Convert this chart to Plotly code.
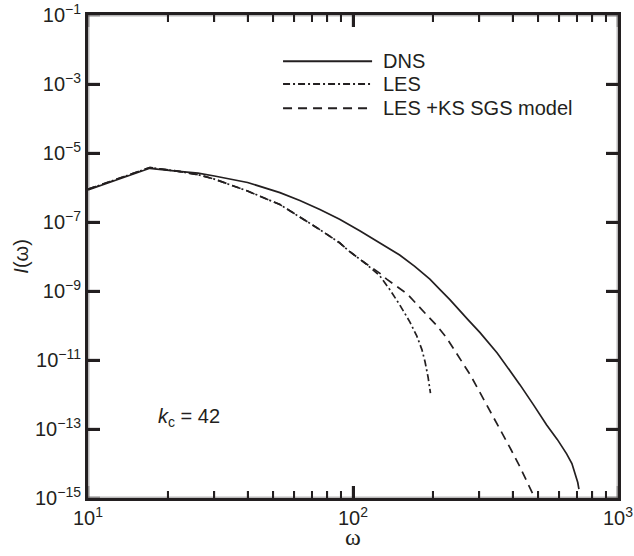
import plotly.graph_objects as go
from plotly.subplots import make_subplots

# ---- data (omega, I(omega)) ----
dns_omega = [10, 17.1, 22, 26, 30, 40, 53, 63, 75, 89, 106, 121, 150, 171, 195, 213, 232,
             272, 301, 350, 391, 427, 480, 538, 590, 640, 670, 689, 705, 712]
dns_I = [8.5e-7, 3.6e-6, 2.95e-6, 2.6e-6, 2.15e-6, 1.4e-6, 7.1e-7, 4.2e-7, 2.3e-7, 1.2e-7,
         5.6e-8, 3.0e-8, 1.1e-8, 5.2e-9, 2.2e-9, 1.1e-9, 5.6e-10,
         1.45e-10, 6.3e-11, 1.6e-11, 5.0e-12, 1.9e-12, 5.0e-13, 1.3e-13, 5.0e-14, 1.9e-14,
         1.0e-14, 5.4e-15, 2.8e-15, 1.8e-15]

les_omega = [10, 17.1, 22, 26, 30, 40, 53, 63, 75, 89, 97, 110, 126, 138, 150, 164, 174,
             182, 187, 192, 196]
les_I = [8.9e-7, 3.8e-6, 2.95e-6, 2.35e-6, 1.75e-6, 7.9e-7, 3.2e-7, 1.4e-7, 6.0e-8, 2.5e-8,
         1.4e-8, 6.8e-9, 2.8e-9, 1.07e-9, 4.0e-10, 1.26e-10, 5.0e-11, 2.0e-11, 8.9e-12,
         3.2e-12, 1.1e-12]

ks_omega = [10, 17.1, 22, 26, 30, 40, 53, 63, 75, 89, 97, 110, 126, 134, 160, 190, 207,
            226, 250, 277, 293, 325, 359, 395, 427, 455, 478]
ks_I = [8.9e-7, 3.8e-6, 2.95e-6, 2.35e-6, 1.75e-6, 7.9e-7, 3.2e-7, 1.4e-7, 6.0e-8, 2.5e-8,
        1.4e-8, 6.8e-9, 3.3e-9, 2.2e-9, 8.3e-10, 2.0e-10, 1.0e-10, 4.3e-11, 1.26e-11,
        3.7e-12, 1.7e-12, 4.0e-13, 1.0e-13, 2.5e-14, 7.9e-15, 2.8e-15, 1.26e-15]

x_tickvals = [10, 100, 1000]
x_ticktext = ["10<sup>1</sup>", "10<sup>2</sup>", "10<sup>3</sup>"]
x_minor = [20, 30, 40, 50, 60, 70, 80, 90, 200, 300, 400, 500, 600, 700, 800, 900]
y_tickvals = [1e-1, 1e-3, 1e-5, 1e-7, 1e-9, 1e-11, 1e-13, 1e-15]
y_ticktext = ["10<sup>\u22121</sup>", "10<sup>\u22123</sup>", "10<sup>\u22125</sup>",
              "10<sup>\u22127</sup>", "10<sup>\u22129</sup>", "10<sup>\u221211</sup>",
              "10<sup>\u221213</sup>", "10<sup>\u221215</sup>"]

legend_names = ["DNS", "LES", "LES +KS SGS model"]

INK = "#231f20"
FONT = "Liberation Sans, Arial, sans-serif"
dashdot = "7px,3px,2px,3px"
dashed = "9px,6px"

W, H = 634, 556
M = dict(l=88, r=16, t=15, b=58)
PW = W - M["l"] - M["r"]
PH = H - M["t"] - M["b"]

fig = make_subplots(rows=1, cols=1)
fig.add_trace(go.Scatter(x=dns_omega, y=dns_I, mode="lines", name=legend_names[0],
                         line=dict(color=INK, width=1.7, dash="solid")), row=1, col=1)
fig.add_trace(go.Scatter(x=les_omega, y=les_I, mode="lines", name=legend_names[1],
                         line=dict(color=INK, width=1.7, dash=dashdot)), row=1, col=1)
fig.add_trace(go.Scatter(x=ks_omega, y=ks_I, mode="lines", name=legend_names[2],
                         line=dict(color=INK, width=1.7, dash=dashed)), row=1, col=1)

# manual legend (long line samples as in the reference)
leg_y = [0.904, 0.857, 0.807]
leg_dash = ["solid", dashdot, dashed]
for yy, dd, nm in zip(leg_y, leg_dash, legend_names):
    fig.add_shape(type="line", xref="paper", yref="paper", x0=0.368, x1=0.536, y0=yy, y1=yy,
                  opacity=1, line=dict(color=INK, width=2, dash=dd))
    fig.add_annotation(xref="paper", yref="paper", x=0.553, y=yy, text=nm, showarrow=False,
                       xanchor="left", yanchor="middle", font=dict(family=FONT, size=20, color=INK))

fig.add_annotation(xref="paper", yref="paper", x=0.128, y=0.166,
                   text="<i>k</i><sub>c</sub> = 42", showarrow=False,
                   xanchor="left", yanchor="middle", font=dict(family=FONT, size=20, color=INK))

# axis titles
fig.add_annotation(xref="paper", yref="paper", x=0.5, y=-0.08, text="\u03c9", showarrow=False,
                   xanchor="center", yanchor="middle",
                   font=dict(family="Liberation Serif, serif", size=24, color=INK))
fig.add_annotation(xref="paper", yref="paper", x=-0.128, y=0.5, text="<i>I</i>(\u03c9)",
                   showarrow=False, textangle=-90, xanchor="center", yanchor="middle",
                   font=dict(family=FONT, size=20, color=INK))

# frame and tick marks (placed through the axes' own scales)
fig.add_shape(type="rect", xref="paper", yref="paper", x0=0, x1=1, y0=0, y1=1,
              line=dict(color=INK, width=3), fillcolor="rgba(0,0,0,0)")
maj_x = 12 / PH
min_x = 7 / PH
maj_y = 12 / PW
for v in x_tickvals:
    for a, b in ((0, maj_x), (1, 1 - maj_x)):
        fig.add_shape(type="line", xref="x", yref="y domain", x0=v, x1=v, y0=a, y1=b,
                      line=dict(color=INK, width=3))
for v in x_minor:
    for a, b in ((0, min_x), (1, 1 - min_x)):
        fig.add_shape(type="line", xref="x", yref="y domain", x0=v, x1=v, y0=a, y1=b,
                      line=dict(color=INK, width=2))
for v in y_tickvals:
    for a, b in ((0, maj_y), (1, 1 - maj_y)):
        fig.add_shape(type="line", xref="x domain", yref="y", x0=a, x1=b, y0=v, y1=v,
                      line=dict(color=INK, width=3))

base = dict(showgrid=False, zeroline=False, showline=True, linewidth=3, linecolor=INK,
            mirror="ticks", ticks="inside", ticklen=12, tickwidth=3, tickcolor=INK)

fig.update_xaxes(type="log", range=[1, 3], tickmode="array", tickvals=x_tickvals, ticktext=x_ticktext,
                 automargin=False, tickfont=dict(family=FONT, size=20, color=INK),
                 minor=dict(tickvals=x_minor, ticks="inside", ticklen=7, tickwidth=2,
                            tickcolor=INK, showgrid=False),
                 row=1, col=1, **base)
fig.update_yaxes(type="log", range=[-15, -1], tickmode="array", tickvals=y_tickvals, ticktext=y_ticktext,
                 automargin=False, tickfont=dict(family=FONT, size=20, color=INK),
                 row=1, col=1, **base)

fig.update_layout(template="simple_white", width=W, height=H, margin=M,
                  paper_bgcolor="white", plot_bgcolor="white", showlegend=False,
                  font=dict(family=FONT, color=INK))

fig.write_html("out.html", config={"displayModeBar": False},
               post_script="document.body.style.margin='0';")
